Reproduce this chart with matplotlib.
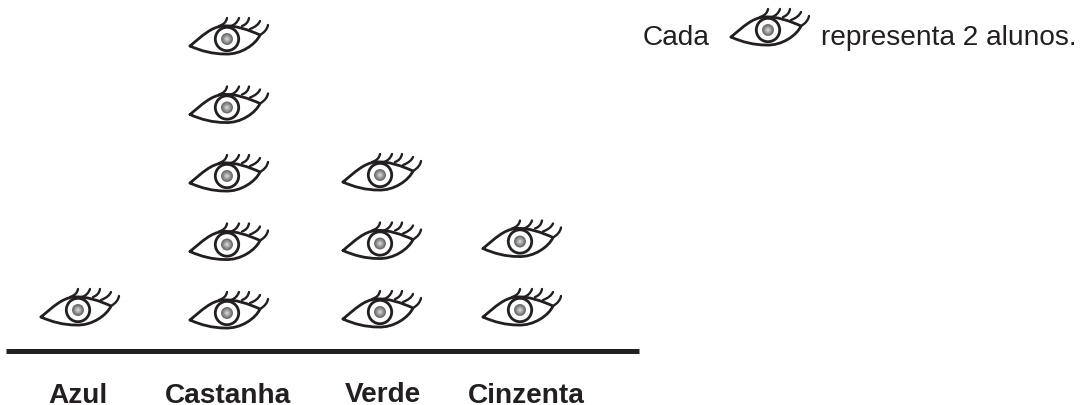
# Pictogram: eye colour of the students
import matplotlib
matplotlib.use("Agg")
import matplotlib.pyplot as plt
from matplotlib.patches import Circle, PathPatch
from matplotlib.path import Path

categories = ["Azul", "Castanha", "Verde", "Cinzenta"]
counts = [1, 5, 3, 2]
legend_text = ["Cada", "representa 2 alunos."]

COL_X = [78, 227, 380, 520]
COL_Y0 = [310, 313, 312, 310]
ROW_STEP = 68.5
LABEL_X = [78, 228, 383, 526]
LABEL_Y = [403, 403, 401.5, 403]
INK = "#231f20"

plt.rcParams["font.family"] = ["Liberation Sans", "DejaVu Sans"]


def curve(ax, verts, codes, lw):
    ax.add_patch(PathPatch(Path(verts, codes), fc="none", ec=INK, lw=lw, capstyle="round", joinstyle="round"))


def draw_eye(ax, cx, cy):
    M, C3, C4 = Path.MOVETO, Path.CURVE3, Path.CURVE4
    # outline, upper lid then lower lid
    outline = [(-37, 7), (-25, -3), (-16, -12), (-4, -13), (8, -14), (22, -9), (33, -4),
               (29, 5), (14, 16), (-2, 15), (-14, 15), (-26, 12), (-37, 7)]
    curve(ax, [(cx + x, cy + y) for x, y in outline], [M] + [C4] * 12, 2.0)
    # lashes
    lashes = [((-8, -13), (-1, -15), (0, -21)), ((4, -13), (10, -15), (12, -21)),
              ((15, -13), (21, -15), (22, -21)), ((23, -10), (31, -13), (33, -18)),
              ((33, -4), (40, -8), (41, -14))]
    for a, b, c in lashes:
        curve(ax, [(cx + a[0], cy + a[1]), (cx + b[0], cy + b[1]), (cx + c[0], cy + c[1])], [M, C3, C3], 1.7)
    # iris and shaded pupil
    ax.add_patch(Circle((cx, cy), 11.7, fc="white", ec=INK, lw=2.0))
    for r, col in [(6, "#6f6f6f"), (4.5, "#8c8c8c"), (3, "#acacac"), (1.5, "#cfcfcf")]:
        ax.add_patch(Circle((cx, cy), r, fc=col, ec="none"))


fig = plt.figure(figsize=(10.81, 4.05), dpi=100)
ax = fig.add_axes([0, 0, 1, 1])
ax.set_xlim(0, 1081)
ax.set_ylim(405, 0)
ax.axis("off")

for i, n in enumerate(counts):
    for j in range(n):
        draw_eye(ax, COL_X[i], COL_Y0[i] - j * ROW_STEP)
    ax.text(LABEL_X[i], LABEL_Y[i], categories[i], ha="center", va="baseline",
            fontsize=20.2, fontweight="bold", color=INK)

ax.plot([6, 639], [351, 351], color=INK, lw=3.6, solid_capstyle="butt")

ax.text(643, 45, legend_text[0], ha="left", va="baseline", fontsize=20.2, color=INK)
draw_eye(ax, 768, 30)
ax.text(821, 45, legend_text[1], ha="left", va="baseline", fontsize=20.2, color=INK)

fig.savefig("out.png", dpi=100)
